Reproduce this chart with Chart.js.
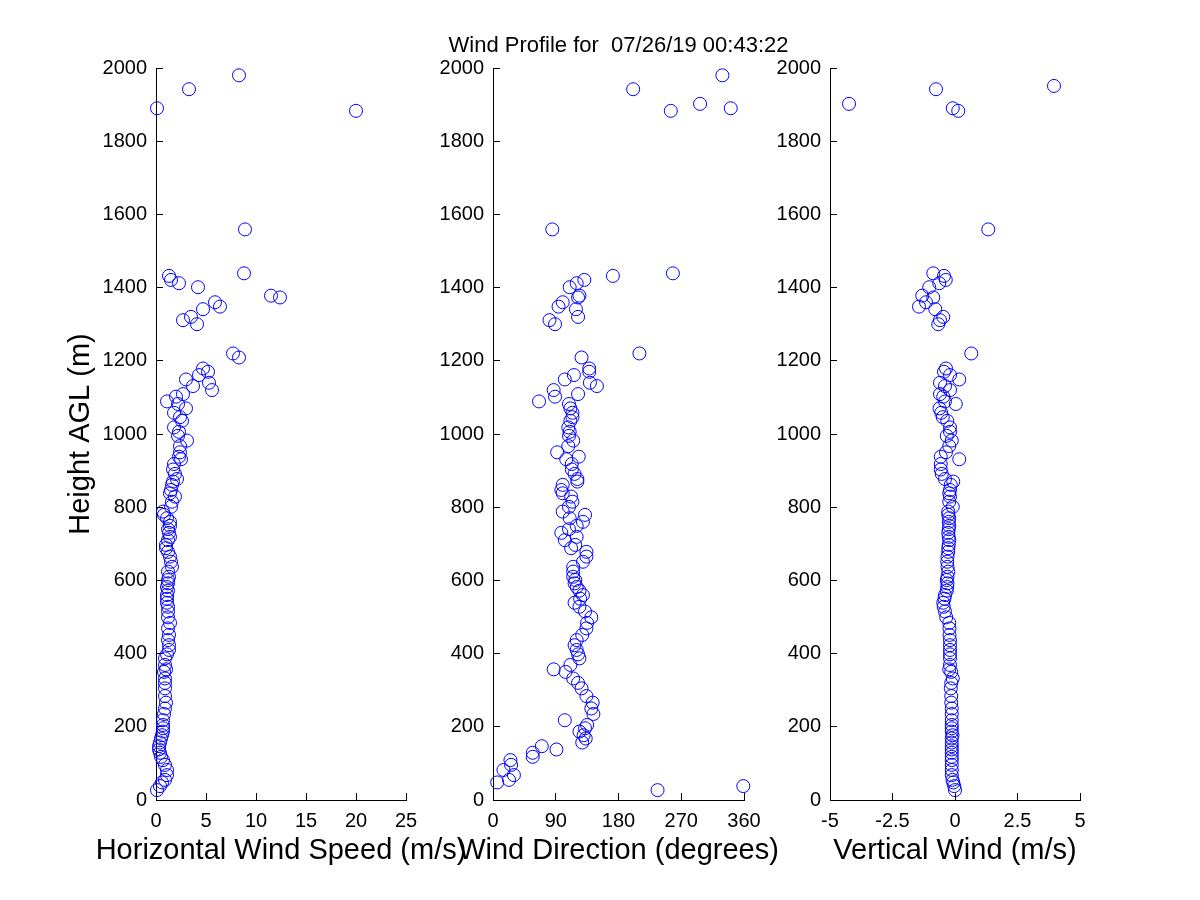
<!DOCTYPE html>
<html>
<head>
<meta charset="utf-8">
<title>Wind Profile</title>
<script src="https://cdn.jsdelivr.net/npm/chart.js@4.4.1/dist/chart.umd.min.js"></script>
<style>
  body { margin: 0; background: #fff; }
  #figura { position: relative; width: 1200px; height: 900px; background: #fff; }
  #figura canvas { position: absolute; left: 0; top: 0; }
</style>
</head>
<body>
<div id="figura">
  <canvas id="graficoVelocidade" width="1200" height="900"></canvas>
  <canvas id="graficoDirecao" width="1200" height="900"></canvas>
  <canvas id="graficoVertical" width="1200" height="900"></canvas>
</div>
<script>
const heights = [
  27, 38, 48, 55, 68, 82, 96, 109, 118, 129,
  138, 147, 157, 168, 177, 187, 196, 205, 218, 235,
  250, 266, 284, 305, 320, 332, 350, 357, 369, 387,
  398, 410, 423, 437, 451, 469, 484, 499, 515, 528,
  539, 550, 560, 572, 582, 592, 601, 610, 624, 637,
  651, 665, 678, 688, 697, 710, 719, 730, 740, 749,
  760, 770, 779, 788, 801, 815, 829, 838, 847, 861,
  870, 877, 891, 903, 918, 931, 938, 950, 967, 982,
  995, 1006, 1018, 1036, 1046, 1058, 1070, 1082, 1089, 1102,
  1109, 1120, 1131, 1140, 1149, 1161, 1170, 1179, 1209, 1220,
  1300, 1311, 1320, 1341, 1348, 1360, 1373, 1378, 1401, 1412,
  1421, 1432, 1439, 1559, 1883, 1890, 1902, 1942, 1951, 1980
];

const windSpeed = [
  0.1, 0.4, 0.6, 0.9, 1.1, 1.1, 0.9, 0.7, 0.5, 0.4,
  0.3, 0.3, 0.4, 0.5, 0.6, 0.7, 0.7, 0.7, 0.7, 0.8,
  0.9, 1.0, 0.9, 0.9, 0.9, 0.9, 0.8, 1.0, 0.9, 0.9,
  1.1, 1.3, 1.3, 1.2, 1.3, 1.2, 1.4, 1.2, 1.2, 1.2,
  1.1, 1.1, 1.1, 1.2, 1.1, 1.2, 1.2, 1.3, 1.2, 1.6,
  1.5, 1.4, 1.2, 1.0, 1.0, 1.2, 1.4, 1.3, 1.2, 1.4,
  1.4, 1.1, 0.8, 0.7, 1.5, 1.6, 1.9, 1.4, 1.5, 1.6,
  1.7, 2.1, 1.9, 1.7, 1.8, 2.5, 2.3, 2.4, 2.4, 3.1,
  2.2, 2.3, 1.8, 2.6, 2.4, 1.8, 3.0, 2.2, 1.1, 2.0,
  2.7, 5.6, 3.7, 5.3, 3.0, 4.3, 5.2, 4.7, 8.3, 7.7,
  4.1, 2.7, 3.5, 4.7, 6.4, 5.9, 12.4, 11.5, 4.2, 2.3,
  1.5, 1.3, 8.8, 8.9, 20.0, 0.1, null, 3.3, null, 8.3
];

const windDirection = [
  236, 359, 6, 23, 30, 15, 26, 25, 57, 57,
  91, 70, 128, 133, 130, 124, 132, 135, 103, 144,
  141, 143, 134, 127, 122, 115, 104, 87, 111, 124,
  122, 120, 117, 120, 128, 134, 135, 141, 132, 124,
  117, 125, 129, 124, 120, 117, 118, 115, 115, 115,
  129, 134, 134, 112, 118, 103, 120, 98, 109, 120,
  129, 110, 132, 100, 109, 114, 112, 100, 98, 100,
  121, 121, 117, 113, 113, 105, 123, 92, 108, 115,
  109, 110, 108, 111, 114, 114, 111, 109, 66, 89,
  122, 87, 149, 139, 103, 116, 138, 138, 127, 210,
  89, 81, 122, 119, 94, 100, 122, 124, 110, 120,
  131, 172, 258, 85, 255, 341, 297, 201, null, 329
];

const verticalWind = [
  0.0, -0.03, -0.07, -0.1, -0.13, -0.13, -0.13, -0.13, -0.13, -0.13,
  -0.13, -0.13, -0.13, -0.13, -0.1, -0.13, -0.13, -0.13, -0.13, -0.13,
  -0.13, -0.15, -0.15, -0.17, -0.15, -0.09, -0.15, -0.23, -0.2, -0.2,
  -0.2, -0.2, -0.2, -0.2, -0.22, -0.22, -0.23, -0.35, -0.4, -0.45,
  -0.47, -0.42, -0.4, -0.33, -0.31, -0.3, -0.33, -0.3, -0.27, -0.3,
  -0.31, -0.3, -0.27, -0.27, -0.25, -0.23, -0.25, -0.27, -0.25, -0.23,
  -0.25, -0.23, -0.27, -0.27, -0.09, -0.23, -0.2, -0.23, -0.2, -0.17,
  -0.07, -0.4, -0.53, -0.57, -0.57, 0.17, -0.57, -0.36, -0.23, -0.13,
  -0.33, -0.2, -0.2, -0.31, -0.49, -0.55, -0.62, 0.03, -0.4, -0.47,
  -0.6, -0.2, -0.4, -0.6, 0.17, -0.2, -0.44, -0.36, null, 0.65,
  -0.67, -0.6, -0.47, -0.79, -1.44, -1.16, -0.87, -1.31, -1.03, -0.63,
  -0.37, -0.44, -0.87, 1.33, 0.13, -0.09, -4.24, -0.76, 3.96, null
];

// --- Ticks ---
const heightTicks = [0, 200, 400, 600, 800, 1000, 1200, 1400, 1600, 1800, 2000];
const speedTicks = [0, 5, 10, 15, 20, 25];
const directionTicks = [0, 90, 180, 270, 360];
const verticalTicks = [-5, -2.5, 0, 2.5, 5];

// --- Textos ---
const mainTitle = "Wind Profile for  07/26/19 00:43:22";
const heightLabel = "Height AGL (m)";
const speedLabel = "Horizontal Wind Speed (m/s)";
const directionLabel = "Wind Direction (degrees)";
const verticalLabel = "Vertical Wind (m/s)";

const FONTE = '"Liberation Sans", Arial, Helvetica, sans-serif';

// --- Plugin para titulos dos eixos (sem compressao de texto) ---
const rotulosEixos = {
  id: "rotulosEixos",
  afterDraw(chart, args, opts) {
    const { ctx, chartArea: a } = chart;
    const centroX = (a.left + a.right) / 2;
    ctx.save();
    ctx.fillStyle = "#000";
    ctx.textAlign = "center";
    ctx.textBaseline = "alphabetic";
    if (opts.xTitle) {
      ctx.font = "29px " + FONTE;
      ctx.fillText(opts.xTitle, centroX, a.bottom + 59);
    }
    if (opts.yTitle) {
      ctx.save();
      ctx.translate(a.left - 67, (a.top + a.bottom) / 2);
      ctx.rotate(-Math.PI / 2);
      ctx.font = "29px " + FONTE;
      ctx.fillText(opts.yTitle, 0, 0);
      ctx.restore();
    }
    if (opts.title) {
      ctx.font = "22px " + FONTE;
      ctx.fillText(opts.title, centroX, a.top - 16);
    }
    ctx.restore();
  }
};

function pontos(valores) {
  return heights
    .map((h, i) => ({ x: valores[i], y: h }))
    .filter(p => p.x !== null);
}

function fixarTicks(lista) {
  return scale => { scale.ticks = lista.map(v => ({ value: v })); };
}

// --- Cria um painel do perfil ---
function criarPainel(id, valores, ticksX, esquerda, direita, textos) {
  const ctx = document.getElementById(id).getContext("2d");
  return new Chart(ctx, {
    type: "scatter",
    data: {
      datasets: [{
        data: pontos(valores),
        pointStyle: "circle",
        pointRadius: 6.5,
        pointHoverRadius: 6.5,
        borderWidth: 1,
        borderColor: "#0000ff",
        backgroundColor: "rgba(0,0,0,0)",
        clip: false
      }]
    },
    options: {
      responsive: false,
      animation: false,
      events: [],
      layout: {
        padding: { left: esquerda - 60, right: 1200 - direita, top: 68, bottom: 20 }
      },
      plugins: {
        legend: { display: false },
        tooltip: { enabled: false },
        rotulosEixos: textos
      },
      scales: {
        x: {
          type: "linear",
          min: ticksX[0],
          max: ticksX[ticksX.length - 1],
          afterBuildTicks: fixarTicks(ticksX),
          afterFit: scale => { scale.height = 80; },
          grid: { drawOnChartArea: false, drawTicks: true, tickLength: -7, color: "#000" },
          border: { display: true, color: "#000", width: 1 },
          ticks: {
            padding: 16,
            color: "#000",
            maxRotation: 0,
            font: { family: FONTE, size: 20 },
            callback: v => String(v)
          }
        },
        y: {
          type: "linear",
          min: 0,
          max: 2000,
          afterBuildTicks: fixarTicks(heightTicks),
          afterFit: scale => { scale.width = 60; },
          grid: { drawOnChartArea: false, drawTicks: true, tickLength: -7, color: "#000" },
          border: { display: true, color: "#000", width: 1 },
          ticks: {
            padding: 16,
            color: "#000",
            font: { family: FONTE, size: 20 },
            callback: v => String(v)
          }
        }
      }
    },
    plugins: [rotulosEixos]
  });
}

// --- Inicializacao ---
window.addEventListener("DOMContentLoaded", () => {
  criarPainel("graficoVelocidade", windSpeed, speedTicks, 156, 406,
    { xTitle: speedLabel, yTitle: heightLabel });
  criarPainel("graficoDirecao", windDirection, directionTicks, 493, 744,
    { xTitle: directionLabel, title: mainTitle });
  criarPainel("graficoVertical", verticalWind, verticalTicks, 830, 1080,
    { xTitle: verticalLabel });
});
</script>
</body>
</html>
